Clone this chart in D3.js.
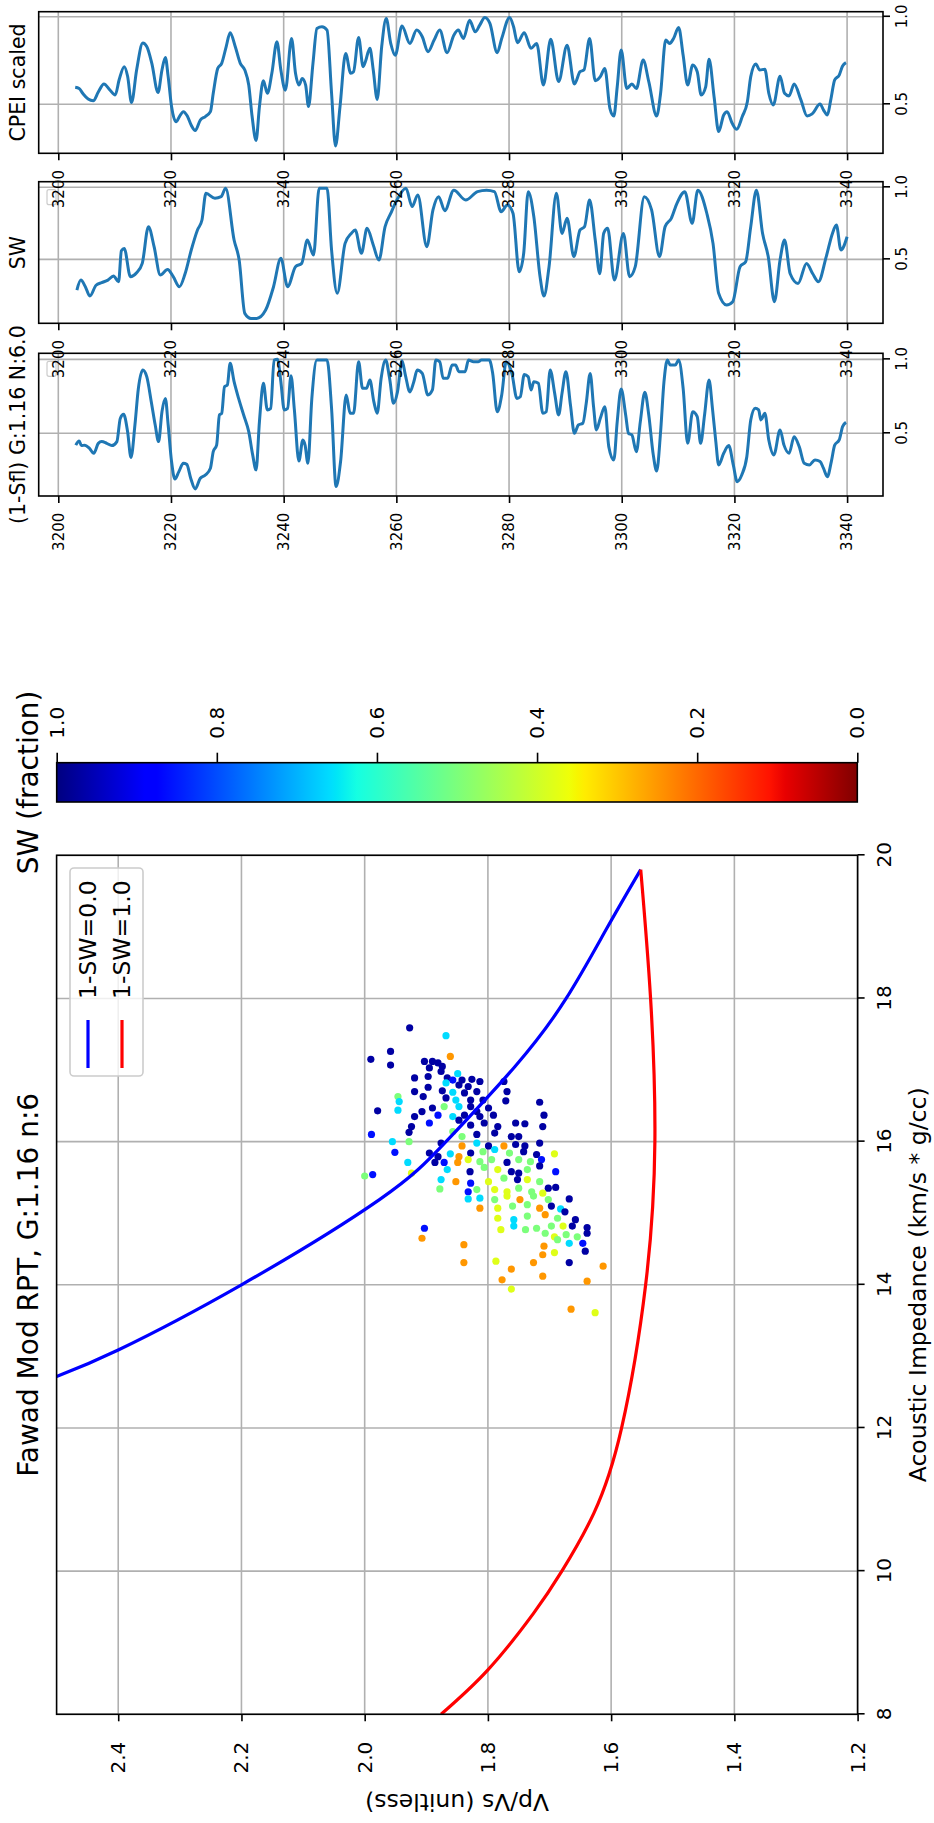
<!DOCTYPE html>
<html>
<head>
<meta charset="utf-8">
<script src="https://cdn.jsdelivr.net/npm/d3@7"></script>
<style>
  body { margin: 0; background: #fff; }
  text { font-family: "DejaVu Sans", sans-serif; }
</style>
</head>
<body>
<div id="chart"></div>
<script>
// ---------------- data ----------------
var aiTicks = [8, 10, 12, 14, 16, 18, 20];
var vpvsTicks = [1.2, 1.4, 1.6, 1.8, 2.0, 2.2, 2.4];
var swTicks = [0, 0.2, 0.4, 0.6, 0.8, 1.0];
var depthTicks = [3200, 3220, 3240, 3260, 3280, 3300, 3320, 3340];
var logTicks = [0.5, 1.0];

// rock physics template lines [acoustic impedance, vp/vs]
var dryLine = [[12.72, 2.5], [13.09, 2.4], [14.0, 2.2], [15.19, 1.976], [16.0, 1.868], [17.05, 1.756],
  [18.0, 1.673], [18.98, 1.607], [19.8, 1.552]];
var wetLine = [[8.0, 1.876], [8.62, 1.80], [9.41, 1.726], [10.0, 1.680], [10.81, 1.628], [12.0, 1.583],
  [14.0, 1.544], [16.0, 1.529], [18.0, 1.536], [19.8, 1.552]];

// well data points [acoustic impedance, vp/vs, SW]
var wellPoints = [
  [17.59,1.927,0.97],[17.48,1.868,0.66],[17.26,1.958,0.97],[17.15,1.990,0.97],[17.07,1.958,0.97],
  [17.19,1.861,0.25],[17.12,1.903,0.97],[17.12,1.890,0.97],[17.10,1.881,0.97],[17.05,1.874,0.97],
  [17.03,1.895,0.97],[16.98,1.876,0.97],[16.95,1.849,0.66],[16.89,1.919,0.97],[16.91,1.897,0.97],
  [16.89,1.866,0.97],[16.86,1.857,0.86],[16.86,1.842,0.97],[16.87,1.826,0.97],[16.84,1.813,0.97],
  [16.84,1.774,0.97],[16.82,1.868,0.66],[16.79,1.847,0.97],[16.77,1.832,0.97],[16.70,1.919,0.97],
  [16.76,1.897,0.97],[16.71,1.874,0.97],[16.69,1.857,0.66],[16.68,1.838,0.97],[16.70,1.818,0.97],
  [16.70,1.769,0.97],[16.63,1.946,0.5],[16.56,1.944,0.66],[16.63,1.905,0.97],[16.61,1.868,0.97],
  [16.58,1.852,0.66],[16.58,1.828,0.97],[16.58,1.808,0.97],[16.57,1.771,0.97],[16.55,1.716,0.97],
  [16.43,1.979,0.97],[16.44,1.946,0.66],[16.42,1.907,0.97],[16.47,1.890,0.97],[16.49,1.871,0.5],
  [16.49,1.847,0.66],[16.49,1.828,0.97],[16.42,1.818,0.97],[16.47,1.799,0.97],[16.37,1.709,0.97],
  [16.35,1.919,0.97],[16.37,1.881,0.86],[16.35,1.857,0.66],[16.37,1.838,0.97],[16.35,1.813,0.97],
  [16.37,1.791,0.97],[16.21,1.711,0.97],[16.21,1.924,0.97],[16.26,1.895,0.86],[16.30,1.847,0.97],
  [16.23,1.828,0.97],[16.26,1.806,0.97],[16.21,1.784,0.97],[16.26,1.755,0.97],[16.25,1.740,0.97],
  [16.13,1.928,0.97],[16.14,1.857,0.5],[16.07,1.842,0.5],[16.10,1.818,0.97],[16.12,1.789,0.97],
  [16.07,1.762,0.97],[16.07,1.750,0.97],[16.10,1.989,0.86],[16.00,1.955,0.66],[16.00,1.928,0.5],
  [15.98,1.876,0.97],[15.94,1.842,0.25],[15.98,1.818,0.66],[15.94,1.799,0.97],[15.94,1.774,0.25],
  [15.96,1.755,0.97],[15.94,1.740,0.97],[15.98,1.716,0.97],[15.85,1.951,0.86],[15.84,1.895,0.97],
  [15.79,1.881,0.97],[15.83,1.861,0.66],[15.79,1.847,0.25],[15.84,1.828,0.97],[15.86,1.808,0.5],
  [15.89,1.789,0.66],[15.84,1.765,0.5],[15.86,1.742,0.97],[15.82,1.721,0.97],[15.83,1.692,0.38],
  [15.71,1.930,0.66],[15.71,1.886,0.97],[15.71,1.871,0.86],[15.71,1.849,0.25],[15.75,1.832,0.38],
  [15.72,1.813,0.5],[15.75,1.794,0.5],[15.71,1.769,0.97],[15.75,1.750,0.5],[15.72,1.731,0.5],
  [15.75,1.713,0.86],[15.54,1.987,0.86],[15.52,2.000,0.5],[15.56,1.924,0.38],[15.61,1.866,0.66],
  [15.58,1.829,0.97],[15.64,1.806,0.5],[15.61,1.784,0.38],[15.58,1.762,0.97],[15.56,1.750,0.97],
  [15.61,1.736,0.5],[15.66,1.716,0.97],[15.58,1.690,0.86],[15.47,1.876,0.66],[15.44,1.852,0.25],
  [15.42,1.828,0.86],[15.44,1.799,0.38],[15.49,1.774,0.5],[15.47,1.752,0.97],[15.47,1.736,0.38],
  [15.44,1.716,0.5],[15.35,1.702,0.97],[15.36,1.690,0.97],[15.34,1.878,0.5],[15.30,1.832,0.86],
  [15.33,1.818,0.5],[15.33,1.789,0.38],[15.30,1.769,0.38],[15.35,1.750,0.5],[15.30,1.729,0.5],
  [15.28,1.711,0.38],[15.20,1.832,0.66],[15.21,1.813,0.66],[15.19,1.789,0.5],[15.24,1.769,0.38],
  [15.19,1.748,0.25],[15.24,1.726,0.5],[15.19,1.702,0.5],[15.20,1.668,0.97],[15.07,1.813,0.25],
  [15.07,1.784,0.38],[15.10,1.760,0.5],[15.12,1.736,0.5],[15.07,1.716,0.25],[15.10,1.697,0.97],
  [15.06,1.682,0.66],[15.02,1.675,0.97],[14.93,1.784,0.38],[14.91,1.758,0.66],[14.96,1.736,0.5],
  [14.98,1.707,0.25],[14.93,1.687,0.5],[14.91,1.658,0.97],[14.79,1.903,0.86],[14.65,1.907,0.25],
  [14.77,1.779,0.38],[14.82,1.758,0.66],[14.77,1.739,0.5],[14.79,1.721,0.5],[14.82,1.697,0.5],
  [14.82,1.678,0.38],[14.82,1.663,0.97],[14.80,1.639,0.97],[14.72,1.707,0.5],[14.67,1.692,0.38],
  [14.70,1.673,0.5],[14.67,1.655,0.5],[14.72,1.639,0.97],[14.56,1.839,0.25],[14.54,1.709,0.25],
  [14.63,1.687,0.5],[14.58,1.668,0.66],[14.58,1.646,0.86],[14.47,1.642,0.97],[14.42,1.711,0.25],
  [14.45,1.692,0.38],[14.31,1.668,0.97],[14.31,1.839,0.25],[14.33,1.787,0.38],[14.22,1.762,0.25],
  [14.31,1.726,0.25],[14.26,1.613,0.25],[14.07,1.777,0.25],[14.12,1.711,0.25],[14.05,1.639,0.25],
  [13.94,1.762,0.38],[13.66,1.665,0.25],[13.61,1.626,0.38]
];

// log tracks [depth, value]
var cpeiLog = [
  [3203.0,0.597],[3203.7,0.59],[3204.4,0.56],[3205.3,0.53],[3206.2,0.52],[3207.1,0.57],[3208.1,0.616],
  [3209.2,0.58],[3210.1,0.553],[3210.8,0.64],[3211.7,0.715],[3212.3,0.66],[3213.0,0.51],[3213.9,0.696],
  [3215.0,0.85],[3215.7,0.83],[3216.6,0.734],[3217.7,0.567],[3218.4,0.696],[3219.0,0.768],[3219.5,0.658],
  [3220.1,0.487],[3220.9,0.40],[3221.5,0.43],[3222.2,0.458],[3222.9,0.433],[3223.6,0.38],[3224.3,0.35],
  [3225.2,0.41],[3226.1,0.43],[3227.0,0.458],[3227.5,0.563],[3228.3,0.705],[3229.0,0.734],[3229.8,0.83],
  [3230.5,0.909],[3231.4,0.83],[3232.3,0.734],[3233.1,0.696],[3233.8,0.61],[3234.4,0.43],[3235.1,0.293],
  [3235.7,0.487],[3236.4,0.635],[3237.1,0.563],[3237.9,0.677],[3238.8,0.857],[3239.5,0.696],[3240.3,0.58],
  [3241.4,0.876],[3242.1,0.677],[3242.7,0.61],[3243.3,0.648],[3243.9,0.61],[3244.4,0.487],[3245.2,0.734],
  [3245.9,0.933],[3246.8,0.943],[3247.7,0.924],[3248.5,0.563],[3249.2,0.262],[3250.0,0.487],[3251.0,0.79],
  [3251.9,0.677],[3252.4,0.686],[3253.3,0.882],[3254.1,0.715],[3254.5,0.743],[3255.3,0.82],[3255.9,0.696],
  [3256.6,0.528],[3257.4,0.83],[3258.2,0.99],[3259.0,0.848],[3259.8,0.78],[3261.0,0.947],[3262.4,0.848],
  [3263.6,0.924],[3264.6,0.886],[3265.6,0.80],[3266.7,0.867],[3267.7,0.924],[3269.0,0.795],[3270.2,0.895],
  [3271.0,0.924],[3271.9,0.876],[3273.0,0.98],[3274.0,0.914],[3274.8,0.952],[3275.7,0.996],[3276.6,0.962],
  [3277.9,0.795],[3278.7,0.876],[3280.1,0.996],[3280.8,0.943],[3281.5,0.852],[3282.7,0.909],[3283.9,0.82],
  [3284.9,0.848],[3286.1,0.61],[3287.4,0.871],[3288.8,0.63],[3290.3,0.838],[3291.6,0.616],[3292.6,0.686],
  [3293.3,0.696],[3294.3,0.876],[3295.3,0.635],[3296.2,0.658],[3297.0,0.705],[3297.9,0.477],[3298.6,0.433],
  [3299.2,0.60],[3299.9,0.81],[3300.9,0.59],[3301.8,0.616],[3302.6,0.59],[3303.8,0.753],[3304.8,0.63],
  [3306.2,0.433],[3306.9,0.563],[3307.8,0.867],[3308.5,0.848],[3309.2,0.876],[3310.1,0.939],[3310.9,0.78],
  [3311.7,0.61],[3312.6,0.724],[3313.4,0.686],[3314.1,0.553],[3314.9,0.60],[3315.5,0.757],[3316.4,0.54],
  [3317.2,0.344],[3318.1,0.439],[3318.7,0.458],[3319.6,0.392],[3320.4,0.357],[3321.4,0.43],[3322.3,0.515],
  [3322.9,0.658],[3323.8,0.73],[3324.5,0.696],[3325.4,0.70],[3326.1,0.563],[3326.9,0.496],[3328.1,0.66],
  [3328.9,0.563],[3329.7,0.548],[3330.6,0.616],[3331.8,0.525],[3332.9,0.433],[3333.8,0.445],[3335.2,0.502],
  [3335.8,0.468],[3336.5,0.439],[3337.1,0.525],[3337.8,0.639],[3338.6,0.667],[3339.2,0.719],[3339.8,0.738]
];
var swLog = [
  [3203.3,0.287],[3204.0,0.356],[3204.8,0.31],[3205.6,0.245],[3206.7,0.32],[3207.7,0.338],[3208.8,0.356],
  [3209.8,0.384],[3210.7,0.345],[3211.2,0.56],[3211.7,0.576],[3212.8,0.38],[3213.9,0.407],[3214.9,0.472],
  [3216.0,0.727],[3217.0,0.588],[3218.1,0.391],[3219.4,0.43],[3220.4,0.38],[3221.5,0.31],[3222.5,0.40],
  [3223.6,0.565],[3224.7,0.704],[3225.5,0.773],[3226.2,0.958],[3227.8,0.924],[3228.9,0.935],[3229.7,0.993],
  [3231.2,0.634],[3232.1,0.495],[3233.1,0.125],[3234.2,0.09],[3235.2,0.09],[3236.8,0.148],[3238.2,0.31],
  [3239.5,0.507],[3240.7,0.31],[3242.1,0.449],[3243.2,0.472],[3244.2,0.634],[3245.3,0.53],[3246.3,0.993],
  [3247.7,0.993],[3248.5,0.565],[3249.5,0.264],[3250.9,0.611],[3252.0,0.68],[3252.7,0.704],[3253.8,0.542],
  [3254.8,0.715],[3255.9,0.60],[3256.9,0.495],[3258.0,0.727],[3259.0,0.819],[3260.1,0.912],[3261.7,0.993],
  [3262.8,0.866],[3263.8,0.947],[3265.4,0.588],[3266.5,0.843],[3267.5,0.935],[3268.6,0.838],[3270.2,0.98],
  [3272.3,0.912],[3274.4,0.97],[3276.0,0.98],[3277.4,0.97],[3278.6,0.831],[3279.7,0.877],[3280.7,0.82],
  [3281.8,0.414],[3282.6,0.542],[3283.4,0.97],[3284.4,0.796],[3285.5,0.38],[3286.2,0.245],[3287.1,0.449],
  [3288.4,0.958],[3289.4,0.68],[3290.3,0.785],[3291.5,0.519],[3292.6,0.704],[3293.4,0.727],[3294.3,0.912],
  [3295.3,0.634],[3296.1,0.40],[3296.8,0.68],[3297.5,0.715],[3298.7,0.356],[3300.3,0.68],[3301.4,0.38],
  [3302.4,0.449],[3304.0,0.935],[3305.3,0.843],[3306.7,0.519],[3307.7,0.727],[3308.8,0.785],[3309.8,0.889],
  [3311.2,0.97],[3312.5,0.75],[3313.5,0.98],[3315.1,0.82],[3316.2,0.611],[3317.2,0.264],[3318.6,0.183],
  [3319.7,0.206],[3321.0,0.449],[3322.0,0.484],[3322.9,0.727],[3323.9,0.98],[3325.0,0.68],[3326.0,0.519],
  [3327.1,0.206],[3328.1,0.495],[3328.9,0.634],[3329.9,0.40],[3331.3,0.333],[3332.8,0.472],[3333.9,0.40],
  [3334.9,0.345],[3336.3,0.519],[3337.4,0.68],[3338.1,0.738],[3338.9,0.565],[3340.0,0.657]
];
var sflLog = [
  [3203.1,0.42],[3203.7,0.448],[3204.1,0.417],[3204.7,0.42],[3205.5,0.40],[3206.3,0.365],[3207.1,0.432],
  [3207.7,0.444],[3208.6,0.432],[3209.5,0.417],[3210.4,0.444],[3211.0,0.60],[3211.6,0.628],[3212.3,0.51],
  [3212.9,0.336],[3213.6,0.556],[3214.2,0.80],[3215.0,0.928],[3215.7,0.883],[3216.5,0.714],[3217.2,0.556],
  [3217.8,0.444],[3218.4,0.646],[3219.0,0.736],[3219.5,0.556],[3220.1,0.309],[3220.7,0.191],[3221.4,0.241],
  [3222.2,0.297],[3222.8,0.29],[3223.5,0.196],[3224.3,0.124],[3225.2,0.196],[3226.1,0.218],[3227.0,0.264],
  [3227.5,0.376],[3228.1,0.42],[3228.6,0.624],[3229.0,0.635],[3229.5,0.815],[3230.0,0.826],[3230.5,0.973],
  [3231.2,0.849],[3232.0,0.736],[3232.9,0.624],[3233.8,0.511],[3234.5,0.354],[3235.1,0.252],[3235.7,0.579],
  [3236.4,0.838],[3237.1,0.658],[3237.7,0.669],[3238.3,0.995],[3238.9,1.0],[3239.5,0.849],[3240.1,0.658],
  [3240.7,0.669],[3241.3,0.89],[3241.9,0.658],[3242.7,0.313],[3243.4,0.455],[3243.8,0.42],[3244.3,0.297],
  [3245.0,0.736],[3245.9,0.995],[3246.8,0.995],[3247.7,0.995],[3248.5,0.669],[3249.3,0.14],[3250.1,0.309],
  [3251.1,0.759],[3251.8,0.635],[3252.4,0.635],[3253.3,0.984],[3254.0,0.804],[3254.7,0.804],[3255.3,0.86],
  [3256.0,0.714],[3256.6,0.635],[3257.3,0.872],[3258.1,0.995],[3258.8,0.872],[3259.5,0.703],[3260.2,0.78],
  [3261.0,0.99],[3261.6,0.894],[3262.4,0.78],[3263.1,0.849],[3263.7,0.928],[3264.6,0.905],[3265.6,0.759],
  [3266.4,0.793],[3267.0,0.995],[3267.7,0.984],[3268.3,0.872],[3269.1,0.872],[3269.9,0.962],[3270.5,0.962],
  [3271.1,0.917],[3272.2,0.917],[3272.8,0.995],[3273.7,0.984],[3274.5,0.984],[3275.1,0.995],[3276.5,0.995],
  [3277.1,0.905],[3277.9,0.646],[3278.7,0.759],[3279.5,0.984],[3280.5,0.905],[3281.4,0.736],[3282.0,0.747],
  [3282.7,0.898],[3283.4,0.883],[3283.9,0.793],[3284.4,0.849],[3285.2,0.838],[3286.0,0.635],[3286.6,0.646],
  [3287.3,0.928],[3288.1,0.77],[3288.8,0.624],[3289.4,0.77],[3290.1,0.917],[3290.9,0.691],[3291.6,0.50],
  [3292.3,0.556],[3293.1,0.568],[3293.7,0.703],[3294.4,0.905],[3295.0,0.68],[3295.5,0.523],[3296.2,0.601],
  [3297.0,0.68],[3297.7,0.41],[3298.6,0.32],[3299.2,0.579],[3299.9,0.80],[3300.7,0.624],[3301.2,0.50],
  [3301.8,0.489],[3302.6,0.376],[3303.3,0.579],[3304.1,0.777],[3304.8,0.624],[3305.6,0.354],[3306.2,0.245],
  [3306.9,0.511],[3307.5,0.849],[3308.1,0.995],[3308.6,0.962],[3309.5,0.962],[3310.1,0.995],[3310.9,0.804],
  [3311.7,0.432],[3312.6,0.646],[3313.4,0.613],[3314.0,0.432],[3314.7,0.624],[3315.5,0.86],[3316.1,0.669],
  [3316.7,0.444],[3317.2,0.286],[3318.1,0.365],[3319.0,0.417],[3319.8,0.286],[3320.5,0.173],[3321.3,0.218],
  [3322.2,0.342],[3322.9,0.59],[3323.7,0.669],[3324.3,0.658],[3324.7,0.59],[3325.4,0.635],[3326.1,0.455],
  [3327.0,0.354],[3328.1,0.523],[3328.8,0.42],[3329.7,0.365],[3330.6,0.477],[3331.5,0.41],[3332.4,0.297],
  [3333.3,0.286],[3334.3,0.32],[3335.2,0.309],[3335.8,0.264],[3336.5,0.207],[3337.2,0.309],[3337.8,0.42],
  [3338.6,0.455],[3339.2,0.545],[3339.8,0.574]
];

// ---------------- layout ----------------
// the figure is laid out upright (width 1823, height 934) and then turned on its side
var pageW = 934, pageH = 1823;
var grid = "#b0b0b0";

var sc = { left: 108.7, right: 967.7, top: 56.6, bottom: 857.6 };
var cb = { left: 1021, right: 1060.3, top: 56.7, bottom: 857.3 };
var logTop = 38.7, logBottom = 883;

// jet colormap (matplotlib segment data)
var jet = d3.scaleLinear()
  .domain([0, 0.11, 0.125, 0.34, 0.35, 0.375, 0.64, 0.65, 0.66, 0.89, 0.91, 1])
  .range(["rgb(0,0,128)", "rgb(0,0,255)", "rgb(0,0,255)", "rgb(0,219,255)", "rgb(0,230,247)",
    "rgb(21,255,226)", "rgb(239,255,8)", "rgb(247,246,0)", "rgb(255,236,0)", "rgb(255,19,0)",
    "rgb(232,0,0)", "rgb(128,0,0)"]);

var svg = d3.select("#chart").append("svg")
  .attr("width", pageW)
  .attr("height", pageH);
svg.append("rect").attr("width", pageW).attr("height", pageH).attr("fill", "#fff");

var defs = svg.append("defs");
var fig = svg.append("g")
  .attr("transform", "translate(0," + pageH + ") rotate(-90)");

function styleAxis(g, fs) {
  g.attr("font-family", "DejaVu Sans, sans-serif").attr("font-size", fs);
  g.select(".domain").remove();
  g.selectAll(".tick line").attr("stroke", "#000").attr("stroke-width", 1.6);
  g.selectAll(".tick text").attr("fill", "#000");
}

// ---------------- scatter / RPT ----------------
var x = d3.scaleLinear().domain([8, 20]).range([sc.left, sc.right]);
var y = d3.scaleLinear().domain([1.2, 2.5]).range([sc.bottom, sc.top]);

defs.append("clipPath").attr("id", "clip-sc")
  .append("rect")
  .attr("x", sc.left).attr("y", sc.top)
  .attr("width", sc.right - sc.left).attr("height", sc.bottom - sc.top);

// grid
fig.append("g").selectAll("line").data(aiTicks).enter().append("line")
  .attr("x1", function (d) { return x(d); }).attr("x2", function (d) { return x(d); })
  .attr("y1", sc.top).attr("y2", sc.bottom)
  .attr("stroke", grid).attr("stroke-width", 1.6);
fig.append("g").selectAll("line").data(vpvsTicks).enter().append("line")
  .attr("y1", function (d) { return y(d); }).attr("y2", function (d) { return y(d); })
  .attr("x1", sc.left).attr("x2", sc.right)
  .attr("stroke", grid).attr("stroke-width", 1.6);

var plot = fig.append("g").attr("clip-path", "url(#clip-sc)");

plot.selectAll("circle").data(wellPoints).enter().append("circle")
  .attr("cx", function (d) { return x(d[0]); })
  .attr("cy", function (d) { return y(d[1]); })
  .attr("r", 3.6)
  .attr("fill", function (d) { return jet(1 - d[2]); });

var rptLine = d3.line()
  .x(function (d) { return x(d[0]); })
  .y(function (d) { return y(d[1]); })
  .curve(d3.curveNatural);

plot.append("path").datum(dryLine)
  .attr("d", rptLine).attr("fill", "none")
  .attr("stroke", "#0000ff").attr("stroke-width", 3.2);
plot.append("path").datum(wetLine)
  .attr("d", rptLine).attr("fill", "none")
  .attr("stroke", "#ff0000").attr("stroke-width", 3.2);

fig.append("rect")
  .attr("x", sc.left).attr("y", sc.top)
  .attr("width", sc.right - sc.left).attr("height", sc.bottom - sc.top)
  .attr("fill", "none").attr("stroke", "#000").attr("stroke-width", 1.6);

fig.append("g")
  .attr("transform", "translate(0," + sc.bottom + ")")
  .call(d3.axisBottom(x).tickValues(aiTicks).tickSize(7).tickPadding(12.5).tickFormat(d3.format("d")))
  .call(styleAxis, 20);

fig.append("g")
  .attr("transform", "translate(" + sc.left + ",0)")
  .call(d3.axisLeft(y).tickValues(vpvsTicks).tickSize(7).tickPadding(20.4).tickFormat(d3.format(".1f")))
  .call(styleAxis, 20);

fig.append("text")
  .attr("x", (sc.left + sc.right) / 2).attr("y", 926)
  .attr("text-anchor", "middle").attr("font-size", 23.5)
  .text("Acoustic Impedance (km/s * g/cc)");

fig.append("text")
  .attr("transform", "translate(29," + (sc.top + sc.bottom) / 2 + ") rotate(-90)")
  .attr("text-anchor", "middle").attr("font-size", 23.5)
  .text("Vp/Vs (unitless)");

fig.append("text")
  .attr("x", (sc.left + sc.right) / 2).attr("y", 38)
  .attr("text-anchor", "middle").attr("font-size", 28)
  .text("Fawad Mod RPT, G:1.16 n:6");

// legend
var leg = fig.append("g");
leg.append("rect")
  .attr("x", 747).attr("y", 70).attr("width", 208).attr("height", 73).attr("rx", 4)
  .attr("fill", "#fff").attr("fill-opacity", 0.8)
  .attr("stroke", "#cccccc").attr("stroke-width", 1.6);
var legItems = [{ label: "1-SW=0.0", color: "#0000ff" }, { label: "1-SW=1.0", color: "#ff0000" }];
legItems.forEach(function (d, i) {
  var ly = 88 + i * 34;
  leg.append("line")
    .attr("x1", 755).attr("x2", 803).attr("y1", ly).attr("y2", ly)
    .attr("stroke", d.color).attr("stroke-width", 3.2);
  leg.append("text")
    .attr("x", 824).attr("y", ly).attr("dy", "0.35em")
    .attr("font-size", 23.5).text(d.label);
});

// ---------------- colorbar ----------------
var cbScale = d3.scaleLinear().domain([0, 1]).range([cb.bottom, cb.top]);
var grad = defs.append("linearGradient").attr("id", "jet-grad")
  .attr("x1", 0).attr("y1", 0).attr("x2", 0).attr("y2", 1);
grad.selectAll("stop").data(jet.domain()).enter().append("stop")
  .attr("offset", function (d) { return d; })
  .attr("stop-color", function (d) { return jet(d); });

fig.append("rect")
  .attr("x", cb.left).attr("y", cb.top)
  .attr("width", cb.right - cb.left).attr("height", cb.bottom - cb.top)
  .attr("fill", "url(#jet-grad)")
  .attr("stroke", "#000").attr("stroke-width", 1.6);

fig.append("g")
  .attr("transform", "translate(" + cb.right + ",0)")
  .call(d3.axisRight(cbScale).tickValues(swTicks).tickSize(10).tickPadding(14).tickFormat(d3.format(".1f")))
  .call(styleAxis, 20);

fig.append("text")
  .attr("x", (cb.left + cb.right) / 2).attr("y", 38)
  .attr("text-anchor", "middle").attr("font-size", 28)
  .text("SW (fraction)");

// ---------------- log tracks ----------------
var depth = d3.scaleLinear().domain([3200, 3340]).range([58.3, 847.1]);

var panels = [
  { title: "(1-Sfl) G:1.16 N:6.0", data: sflLog, left: 1327, right: 1469.7, dom: [0.076, 1.041], box: true },
  { title: "SW", data: swLog, left: 1499.7, right: 1641.3, dom: [0.056, 1.039], box: true },
  { title: "CPEI scaled", data: cpeiLog, left: 1669.7, right: 1811.3, dom: [0.220, 1.029], box: false }
];

panels.forEach(function (p) {
  var xs = d3.scaleLinear().domain(p.dom).range([p.left, p.right]);
  var g = fig.append("g");

  g.selectAll(".hgrid").data(depthTicks).enter().append("line")
    .attr("x1", p.left).attr("x2", p.right)
    .attr("y1", function (d) { return depth(d); }).attr("y2", function (d) { return depth(d); })
    .attr("stroke", grid).attr("stroke-width", 1.6);
  g.selectAll(".vgrid").data(logTicks).enter().append("line")
    .attr("x1", function (d) { return xs(d); }).attr("x2", function (d) { return xs(d); })
    .attr("y1", logTop).attr("y2", logBottom)
    .attr("stroke", grid).attr("stroke-width", 1.6);

  g.append("path").datum(p.data)
    .attr("d", d3.line()
      .x(function (d) { return xs(d[1]); })
      .y(function (d) { return depth(d[0]); })
      .curve(d3.curveMonotoneY))
    .attr("fill", "none").attr("stroke", "#1f77b4").attr("stroke-width", 3)
    .attr("stroke-linejoin", "round");

  if (p.box) {
    g.append("rect")
      .attr("x", p.right - 23).attr("y", 47).attr("width", 15).attr("height", 9).attr("rx", 2)
      .attr("fill", "#fff").attr("fill-opacity", 0.8)
      .attr("stroke", "#cccccc").attr("stroke-width", 1.2);
  }

  g.append("rect")
    .attr("x", p.left).attr("y", logTop)
    .attr("width", p.right - p.left).attr("height", logBottom - logTop)
    .attr("fill", "none").attr("stroke", "#000").attr("stroke-width", 1.6);

  g.append("g")
    .attr("transform", "translate(" + p.left + ",0)")
    .call(d3.axisLeft(depth).tickValues(depthTicks).tickSize(7).tickPadding(9.7).tickFormat(d3.format("d")))
    .call(styleAxis, 15);

  g.append("g")
    .attr("transform", "translate(0," + logBottom + ")")
    .call(d3.axisBottom(xs).tickValues(logTicks).tickSize(7).tickPadding(6.4).tickFormat(d3.format(".1f")))
    .call(styleAxis, 15);

  g.append("text")
    .attr("x", (p.left + p.right) / 2).attr("y", 25)
    .attr("text-anchor", "middle").attr("font-size", 20.5)
    .text(p.title);
});
</script>
</body>
</html>
